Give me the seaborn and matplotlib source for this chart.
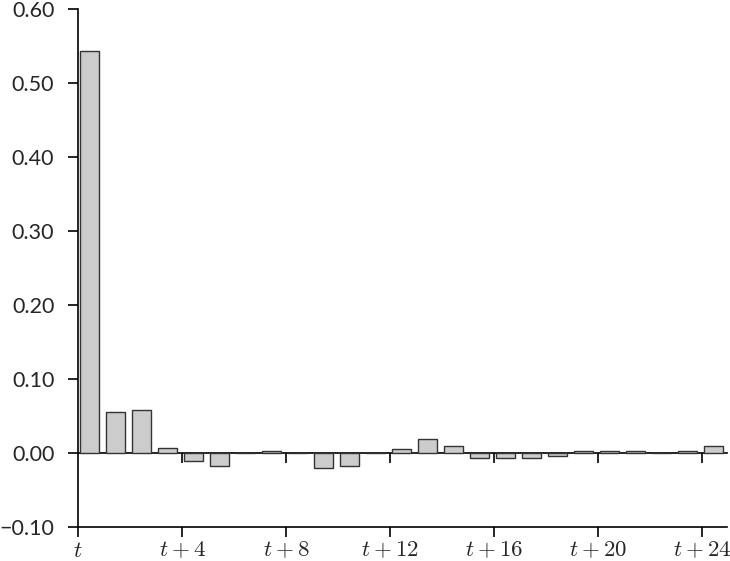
import numpy as np
import pandas as pd
import matplotlib
matplotlib.use("Agg")
import matplotlib.pyplot as plt
import seaborn as sns

# values
lags = list(range(25))
values = [0.543, 0.055, 0.058, 0.007, -0.011, -0.017, 0.0, 0.003, 0.0, -0.020,
          -0.017, 0.0, 0.006, 0.019, 0.009, -0.007, -0.007, -0.007, -0.004, 0.003,
          0.003, 0.003, 0.0, 0.003, 0.009]
tick_lags = [0, 4, 8, 12, 16, 20, 24]
tick_labels = ["$t$"] + [f"$t + {k}$" for k in tick_lags[1:]]
y_ticks = [-0.10, 0.00, 0.10, 0.20, 0.30, 0.40, 0.50, 0.60]

sns.set_style("white")
plt.rcParams['font.family'] = ['Lato', 'DejaVu Sans']
plt.rcParams['mathtext.fontset'] = 'cm'

df = pd.DataFrame({"lag": lags, "value": values})

fig = plt.figure(figsize=(7.3, 5.61), dpi=100)
ax = fig.add_axes([0.1068, 0.0606, 0.889, 0.924])

sns.barplot(data=df, x="lag", y="value", color="#cccccc", saturation=1,
            edgecolor="#333333", linewidth=1.0, width=0.75, ax=ax)

ymin, ymax = -0.10, 0.60
ax.set_ylim(ymin, ymax)
ax.set_xlim(-0.45, 24.52)

off = -0.44
ax.set_xticks([k + off for k in tick_lags])
ax.set_xticklabels(tick_labels, fontsize=16.5)
ax.set_yticks(y_ticks)
ax.set_yticklabels([f"{v:.2f}".replace("-", "\u2212") for v in y_ticks], fontsize=15.5)
ax.set_xlabel("")
ax.set_ylabel("")

for s in ["top", "right"]:
    ax.spines[s].set_visible(False)
for s in ["left", "bottom"]:
    ax.spines[s].set_color("black")
    ax.spines[s].set_linewidth(1.2)
ax.tick_params(axis="both", direction="out", length=7, width=1.2, color="black",
               bottom=True, left=True)
ax.tick_params(axis="y", pad=10)
ax.tick_params(axis="x", pad=2)

# zero line with its own ticks
zero_pos = (0 - ymin) / (ymax - ymin)
sec = ax.secondary_xaxis(zero_pos)
sec.set_xticks([k + off for k in tick_lags[1:]])
sec.set_xticklabels([])
sec.tick_params(direction="out", length=7, width=1.2, color="black")
for sp in sec.spines.values():
    sp.set_linewidth(1.2)
    sp.set_color("black")

fig.savefig("out.png", dpi=100)
